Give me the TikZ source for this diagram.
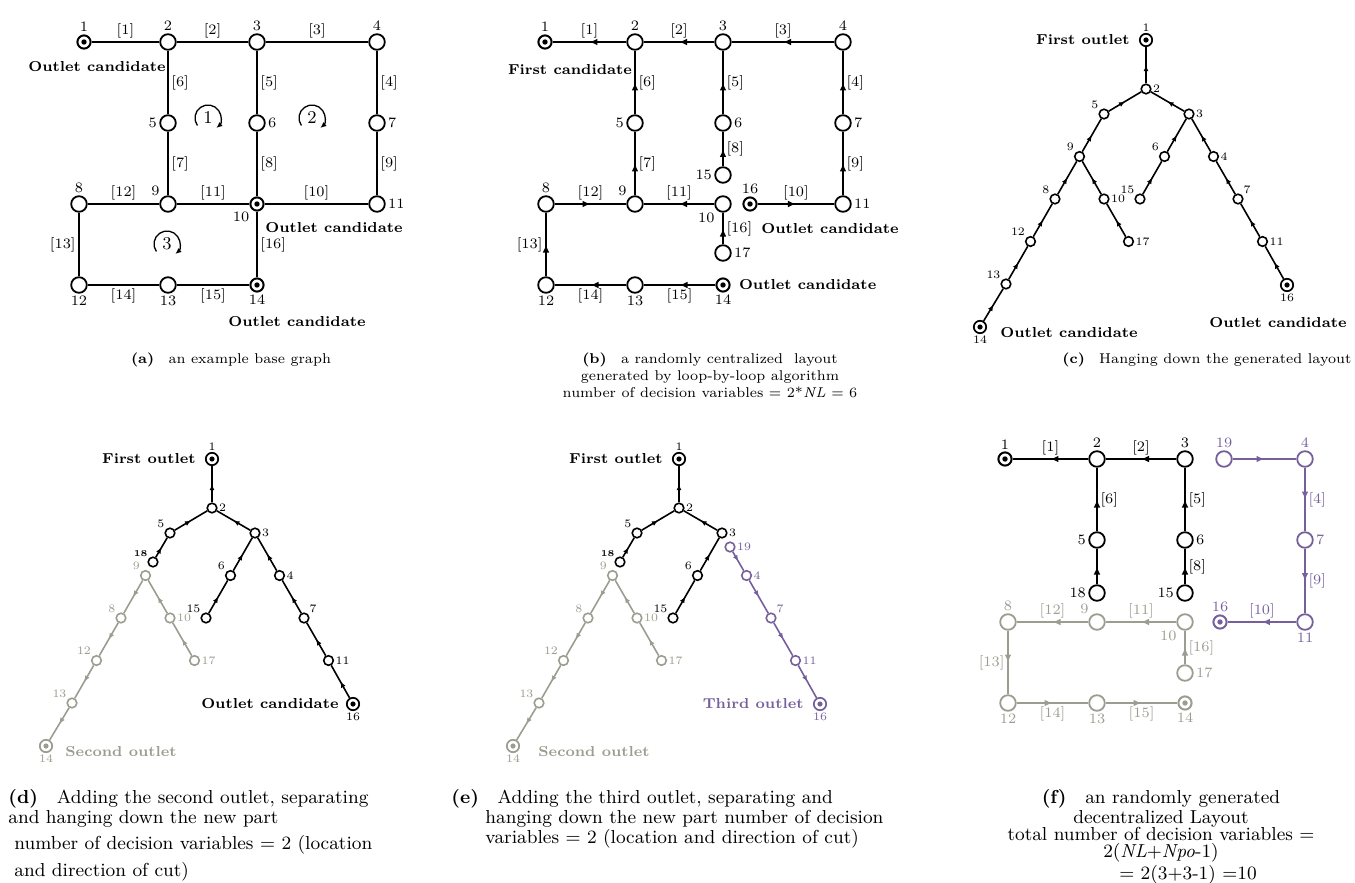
\documentclass[tikz,border=0pt]{standalone}
\usepackage{tikz}
\usetikzlibrary{arrows.meta,positioning,decorations.markings}
\definecolor{ash}{HTML}{9C9C90}
\definecolor{plum}{HTML}{76609C}
\newcommand\numsz{\fontsize{7.2}{7.2}\selectfont}
\newcommand\tnsz{\fontsize{5.7}{5.7}\selectfont}
\newcommand\tagsz{\fontsize{7.2}{7.2}\selectfont\bfseries}
\newcommand\capsz{\fontsize{7.1}{8.5}\selectfont}
\newcommand\bigcapsz{\fontsize{9.4}{8.6}\selectfont}

\begin{document}
\begin{tikzpicture}[x=0.5pt,y=0.5pt,>=Latex,
  junc/.style={circle,draw,fill=white,line width=0.9pt,minimum size=7.8pt,inner sep=0pt},
  outlet/.style={junc,minimum size=6.6pt,line width=1pt,
    path picture={\fill[#1] (path picture bounding box.center) circle (1.35pt);}},
  outlet/.default=black,
  tnode/.style={circle,draw,fill=white,line width=0.8pt,minimum size=4.8pt,inner sep=0pt},
  toutlet/.style={tnode,minimum size=6.2pt,line width=0.85pt,
    path picture={\fill[#1] (path picture bounding box.center) circle (1.3pt);}},
  toutlet/.default=black,
  pipe/.style={line width=1pt},
  flow/.style={line width=1.15pt,postaction=decorate,decoration={markings,
    mark=at position 0.5 with {\arrow{Latex[length=4pt,width=3.4pt]}}}},
  tpipe/.style={line width=0.8pt,postaction=decorate,decoration={markings,
    mark=at position 0.5 with {\arrow{Latex[length=3pt,width=2.6pt]}}}},
  lbl/.style={font=\numsz,inner sep=1.2pt},
  tagtext/.style={font=\tagsz,inner sep=1.5pt},
  captext/.style={font=\capsz,align=center,inner sep=0pt},
  bigcap/.style={font=\bigcapsz,inner sep=0pt},
  every label/.style={font=\numsz,inner sep=1pt}]
  \useasboundingbox (0,0) rectangle (1355,-883);

  % (a) base graph with three loops
  \foreach \n/\x/\y/\lp in {2/168/42/above, 3/257/42/above, 4/377/42/above,
      5/168/123/left, 6/257/123/right, 7/377/123/right, 8/79/204/above,
      9/168/204/above left, 11/377/204/right, 12/79/285/below, 13/168/285/below}
    \node[junc,label={\lp:\n}] (a\n) at (\x,-\y) {};
  \node[outlet,label={above:1}] (a1) at (84,-42) {};
  \node[outlet,label={below left:10}] (a10) at (257,-204) {};
  \node[outlet,label={below:14}] (a14) at (257,-285) {};
  \foreach \s/\t/\w/\lp in {1/2/1/above, 2/3/2/above, 3/4/3/above, 2/5/6/right,
      3/6/5/right, 4/7/4/right, 5/9/7/right, 6/10/8/right, 7/11/9/right,
      8/9/12/above, 9/10/11/above, 10/11/10/above, 8/12/13/left, 10/14/16/right,
      12/13/14/below, 13/14/15/below}
    \draw[pipe] (a\s) -- node[lbl,\lp]{[\w]} (a\t);
  \foreach \cx/\cy/\k in {208/118/1, 312/118/2, 167/244/3} {
    \node[font=\fontsize{9}{9}\selectfont] (loop\k) at (\cx,-\cy) {\k};
    \draw[line width=0.65pt,-{Latex[length=3pt,width=2.6pt]}] (loop\k.center)
      ++(215:13) arc[start angle=215,end angle=-50,radius=13];
  }
  \node[tagtext] (ta1) at (97,-67) {Outlet candidate};
  \node[tagtext,anchor=west] (ta10) at (262,-228) {Outlet candidate};
  \node[tagtext] (ta14) at (297,-322) {Outlet candidate};
  \node[captext,anchor=north] (capa) at (231,-352) {\textbf{(a)}\quad an example base graph};

  % (b) centralized layout
  \foreach \n/\x/\y/\lp in {2/635/42/above, 3/723/42/above, 4/843/42/above,
      5/635/123/left, 6/723/123/right, 7/843/123/right, 15/723/175/left,
      8/546/204/above, 9/635/204/above left, 10/723/204/below left, 11/843/204/right,
      17/723/253/right, 12/546/285/below, 13/635/285/below}
    \node[junc,label={\lp:\n}] (b\n) at (\x,-\y) {};
  \node[outlet,label={above:1}] (b1) at (545,-42) {};
  \node[outlet,label={above:16}] (b16) at (750,-204) {};
  \node[outlet,label={below:14}] (b14) at (723,-285) {};
  \foreach \s/\t/\w/\lp in {2/1/1/above, 3/2/2/above, 4/3/3/above, 5/2/6/right,
      6/3/5/right, 7/4/4/right, 9/5/7/right, 15/6/8/right, 11/7/9/right,
      8/9/12/above, 10/9/11/above, 16/11/10/above, 12/8/13/left, 17/10/16/right,
      13/12/14/below, 14/13/15/below}
    \draw[flow] (b\s) -- node[lbl,\lp]{[\w]} (b\t);
  \node[tagtext] (tb1) at (570,-70) {First candidate};
  \node[tagtext,anchor=west] (tb16) at (758,-229) {Outlet candidate};
  \node[tagtext,right=2.5pt of b14] (tb14) {Outlet candidate};
  \node[captext,anchor=north] (capb) at (710,-352) {\textbf{(b)}\quad a randomly centralized~ layout\\
    generated by loop-by-loop algorithm\\ number of decision variables = 2*\textit{NL} = 6};

  % (c) hanging the layout from the first outlet
  \begin{scope}[shift={(934,419)},every label/.style={font=\tnsz,inner sep=0.6pt}]
    \node[toutlet,label={above:1}] (c1) at (212,-459) {};
    \foreach \n/\x/\y/\lp in {2/212/508/right, 5/170/533/above left, 3/255/533/right,
        9/145.5/575.5/above left, 6/230.5/575.5/above left, 4/279.5/575.5/right,
        8/121/618/above left, 10/170/618/right, 15/206/618/above left, 7/304/618/above right,
        12/96.5/660.5/above left, 17/194.5/660.5/right, 11/328.5/660.5/right,
        13/72/703/above left}
      \node[tnode,label={\lp:\n}] (c\n) at (\x,-\y) {};
    \node[toutlet,label={below:16}] (c16) at (353,-704) {};
    \node[toutlet,label={below:14}] (c14) at (46,-746) {};
    \foreach \s/\t in {2/1, 5/2, 3/2, 9/5, 6/3, 4/3, 8/9, 10/9, 15/6, 7/4,
        12/8, 17/10, 11/7, 13/12, 16/11, 14/13}
      \draw[tpipe] (c\s) -- (c\t);
    \node[tagtext,left=3pt of c1] (tc1) {First outlet};
    \node[tagtext,anchor=west] (tc14) at (63,-752) {Outlet candidate};
    \node[tagtext] (tc16) at (344,-742) {Outlet candidate};
  \end{scope}
  \node[captext,anchor=north] (capc) at (1207,-352) {\textbf{(c)}\quad Hanging down the generated layout};

  % (d) second outlet
  \begin{scope}[every label/.style={font=\tnsz,inner sep=0.6pt}]
    \node[toutlet,label={above:1}] (d1) at (212,-459) {};
    \foreach \n/\x/\y/\lp in {2/212/508/right, 5/170/533/above left, 3/255/533/right,
        6/230.5/575.5/above left, 4/279.5/575.5/right, 15/206/618/above left,
        7/304/618/above right, 11/328.5/660.5/right}
      \node[tnode,label={\lp:\n}] (d\n) at (\x,-\y) {};
    \node[tnode,label={[font=\fontsize{4.5}{4.5}\selectfont\bfseries]above left:18}] (d18) at (153,-562) {};
    \node[toutlet,label={below:16}] (d16) at (353,-704) {};
    \foreach \s/\t in {2/1, 5/2, 3/2, 18/5, 6/3, 4/3, 15/6, 7/4, 11/7, 16/11}
      \draw[tpipe] (d\s) -- (d\t);
    \node[tagtext,left=3pt of d1] (td1) {First outlet};
    \node[tagtext,left=2pt of d16] (td16) {Outlet candidate};
    \begin{scope}[ash]
      \foreach \n/\x/\y/\lp in {9/145.5/575.5/above left, 8/121/618/above left,
          10/170/618/right, 12/96.5/660.5/above left, 17/194.5/660.5/right, 13/72/703/above left}
        \node[tnode,label={\lp:\n}] (d\n) at (\x,-\y) {};
      \node[toutlet=ash,label={below:14}] (d14) at (46,-746) {};
      \foreach \s/\t in {9/8, 8/12, 12/13, 13/14, 10/9, 17/10}
        \draw[tpipe] (d\s) -- (d\t);
      \node[tagtext,anchor=west] (td14) at (62,-752) {Second outlet};
    \end{scope}
  \end{scope}
  \node[bigcap,align=left,anchor=north west] (capd) at (8,-789) {\textbf{(d)}\quad Adding the second outlet, separating\\
    and hanging down the new part\\[3pt] \hspace*{3pt}number of decision variables = 2 (location\\[3pt]
    \hspace*{3pt}and direction of cut)};

  % (e) third outlet
  \begin{scope}[shift={(467,0)},every label/.style={font=\tnsz,inner sep=0.6pt}]
    \node[toutlet,label={above:1}] (e1) at (212,-459) {};
    \foreach \n/\x/\y/\lp in {2/212/508/right, 5/170/533/above left, 3/255/533/right,
        6/230.5/575.5/above left, 15/206/618/above left}
      \node[tnode,label={\lp:\n}] (e\n) at (\x,-\y) {};
    \node[tnode,label={[font=\fontsize{4.5}{4.5}\selectfont\bfseries]above left:18}] (e18) at (153,-562) {};
    \foreach \s/\t in {2/1, 5/2, 3/2, 18/5, 6/3, 15/6}
      \draw[tpipe] (e\s) -- (e\t);
    \node[tagtext,left=3pt of e1] (te1) {First outlet};
    \begin{scope}[ash]
      \foreach \n/\x/\y/\lp in {9/145.5/575.5/above left, 8/121/618/above left,
          10/170/618/right, 12/96.5/660.5/above left, 17/194.5/660.5/right, 13/72/703/above left}
        \node[tnode,label={\lp:\n}] (e\n) at (\x,-\y) {};
      \node[toutlet=ash,label={below:14}] (e14) at (46,-746) {};
      \foreach \s/\t in {9/8, 8/12, 12/13, 13/14, 10/9, 17/10}
        \draw[tpipe] (e\s) -- (e\t);
      \node[tagtext,anchor=west] (te14) at (68,-752) {Second outlet};
    \end{scope}
    \begin{scope}[plum]
      \foreach \n/\x/\y/\lp in {19/263/547/right, 4/279.5/575.5/right,
          7/304/618/above right, 11/328.5/660.5/right}
        \node[tnode,label={\lp:\n}] (e\n) at (\x,-\y) {};
      \node[toutlet=plum,label={below:16}] (e16) at (353,-704) {};
      \foreach \s/\t in {19/4, 4/7, 7/11, 11/16}
        \draw[tpipe] (e\s) -- (e\t);
      \node[tagtext,left=3pt of e16] (te16) {Third outlet};
    \end{scope}
  \end{scope}
  \node[bigcap,align=left,anchor=north west] (cape) at (451,-789) {\textbf{(e)}\quad Adding the third outlet, separating and\\
    \hspace*{17pt}hanging down the new part number of decision\\
    \hspace*{17pt}variables = 2 (location and direction of cut)};

  % (f) decentralized layout
  \node[outlet,label={above:1}] (f1) at (1005,-459) {};
  \foreach \n/\x/\y/\lp in {2/1097/459/above, 3/1185/459/above, 5/1097/540/left,
      6/1185/540/right, 18/1097/593/left, 15/1185/593/left}
    \node[junc,label={\lp:\n}] (f\n) at (\x,-\y) {};
  \foreach \s/\t/\w/\lp in {2/1/1/above, 3/2/2/above, 5/2/6/right, 6/3/5/right, 15/6/8/right}
    \draw[flow] (f\s) -- node[lbl,\lp]{[\w]} (f\t);
  \draw[flow] (f18) -- (f5);
  \begin{scope}[plum]
    \foreach \n/\x/\y/\lp in {19/1224/459/above, 4/1305/459/above, 7/1305/540/right,
        11/1305/622/below}
      \node[junc,label={\lp:\n}] (f\n) at (\x,-\y) {};
    \node[outlet=plum,label={above:16}] (f16) at (1220,-622) {};
    \draw[flow] (f19) -- (f4);
    \foreach \s/\t/\w/\lp in {4/7/4/right, 7/11/9/right, 11/16/10/above}
      \draw[flow] (f\s) -- node[lbl,\lp]{[\w]} (f\t);
  \end{scope}
  \begin{scope}[ash]
    \foreach \n/\x/\y/\lp in {8/1008/622/above, 9/1097/622/above left, 10/1185/622/below left,
        17/1185/673/right, 12/1008/703/below, 13/1097/703/below}
      \node[junc,label={\lp:\n}] (f\n) at (\x,-\y) {};
    \node[outlet=ash,label={below:14}] (f14) at (1185,-703) {};
    \foreach \s/\t/\w/\lp in {9/8/12/above, 10/9/11/above, 17/10/16/right, 8/12/13/left,
        12/13/14/below, 13/14/15/below}
      \draw[flow] (f\s) -- node[lbl,\lp]{[\w]} (f\t);
  \end{scope}
  \node[bigcap,align=center,anchor=north] (capf) at (1161,-789) {\textbf{(f)}\quad an randomly generated\\
    decentralized Layout\\ total number of decision variables =\\ 2(\textit{NL}+\textit{Npo}-1)};
  \node[bigcap,anchor=base] (capf2) at (1188,-879) {= 2(3+3-1) =10};
\end{tikzpicture}
\end{document}
